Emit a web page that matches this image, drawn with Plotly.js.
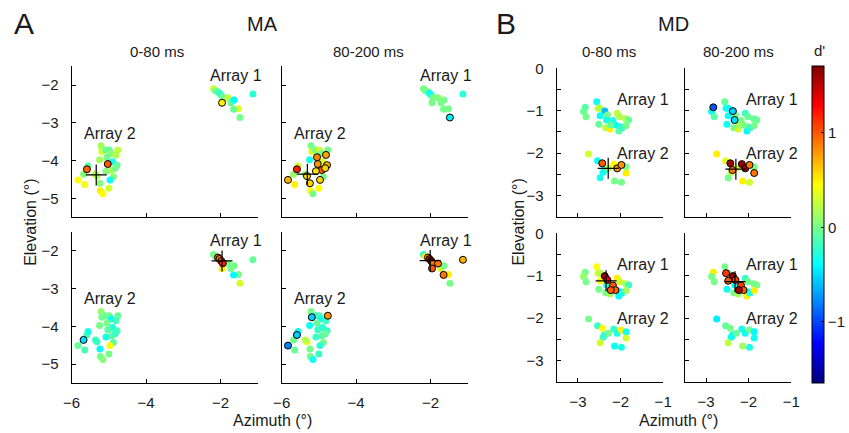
<!DOCTYPE html>
<html><head><meta charset="utf-8">
<script src="https://cdn.plot.ly/plotly-3.0.1.min.js"></script>
<style>html,body{margin:0;padding:0;background:#fff}#chart{width:849px;height:433px}</style>
</head><body><div id="chart"></div>
<script>
// ---------- DATA ----------
// MA monkey: receptive-field centres (deg), shared by all MA panels
const MA_A1_X = [-2.19,-2.14,-2.07,-2.03,-1.98,-1.94,-1.80,-1.96,-1.72,-1.64,-1.52,-1.65,-1.48,-1.13];
const MA_A1_Y = [-2.10,-2.15,-2.18,-2.22,-2.27,-2.33,-2.34,-2.47,-2.47,-2.40,-2.63,-2.64,-2.86,-2.24];
const MA_A2_X = [-5.21,-5.19,-5.09,-4.99,-4.94,-4.76,-4.81,-5.05,-5.25,-4.90,-4.78,-5.03,-4.92,-4.83,-5.08,-5.59,-5.56,-5.68,-5.32,-4.88,-4.97,-5.24,-5.83,-5.65,-5.00,-5.23,-5.16,-5.36];
const MA_A2_Y = [-3.61,-3.76,-3.72,-3.72,-3.81,-3.72,-3.85,-3.91,-3.98,-4.03,-4.12,-4.09,-4.25,-4.20,-4.28,-4.23,-4.14,-4.36,-4.41,-4.43,-4.51,-4.60,-4.51,-4.63,-4.73,-4.80,-4.88,-4.36];

// MA d' values (row 1 / row 2, 0-80 ms = E, 80-200 ms = L)
const MA_R1E_A1 = [0.3,0,-0.05,-0.2,-0.2,0,0.25,0.5,-0.05,-0.4,0.35,-0.05,0,-0.25];
const MA_R1L_A1 = [0,0,0,-0.35,-0.35,0,0.05,0,0,0,0,0,-0.45,-0.25];
const MA_R2E_A1 = [0,0,1.0,0.9,1.0,1.2,0,0.5,0,0,0,-0.4,0.3,-0.05];
const MA_R2L_A1 = [-0.3,0.5,0.8,1.5,1.6,0.9,0.9,1.0,0.3,0,0.5,0.9,0,0.7];
const MA_R1E_A2 = [0.15,0.3,0,-0.05,0.05,0.25,0.2,0,0.15,-0.35,-0.05,1.0,0.2,0,0.05,0.95,-0.1,0.05,0.2,0.05,-0.35,0.05,0.45,0.4,0.3,0.5,0.45,0.2];
const MA_R1L_A2 = [0,0.3,0,0.3,0,0,0.75,0.85,-0.3,0.3,0.7,0.8,1.0,0.6,0.55,1.2,0.3,0.1,0.55,0,0.6,0.6,0.7,0.5,0.45,0.45,0,0.1];
const MA_R2E_A2 = [0.1,0,-0.05,0,-0.35,-0.05,-0.15,0,0,-0.3,-0.15,-0.1,-0.05,-0.2,-0.3,-0.15,-0.3,-0.5,-0.2,-0.1,0.45,-0.4,-0.05,-0.15,0,0,0.05,-0.2];
const MA_R2L_A2 = [0,-0.55,-0.2,-0.15,-0.3,0.8,-0.2,-0.05,-0.35,-0.25,-0.2,-0.2,-0.1,-0.05,-0.2,-0.55,-0.35,0,0.4,0,-0.25,0,-0.8,-0.05,-0.2,0,-0.35,0.2];
// significant sites (indices)
const MA_R1E_A1_SIG = [7];
const MA_R1L_A1_SIG = [12];
const MA_R2E_A1_SIG = [2,3,4,5];
const MA_R2L_A1_SIG = [2,3,4,5,6,7,11,13];
const MA_R1E_A2_SIG = [11,15];
const MA_R1L_A2_SIG = [6,7,10,11,12,13,14,15,18,20,21,22];
const MA_R2E_A2_SIG = [17];
const MA_R2L_A2_SIG = [1,5,15,22];

// MD monkey
const MD_A1_X = [-2.56,-2.83,-2.87,-2.81,-2.53,-2.48,-2.37,-2.31,-2.48,-2.33,-2.51,-2.35,-2.25,-2.18,-2.12,-2.08,-2.02,-2.01,-2.04,-1.97,-1.88,-1.81,-1.87,-2.23];
const MD_A1_Y = [-0.79,-0.92,-1.02,-1.14,-0.94,-0.94,-1.01,-1.10,-1.12,-1.22,-1.32,-1.40,-1.43,-1.23,-1.34,-1.06,-1.14,-1.38,-1.48,-1.41,-1.19,-1.22,-1.35,-1.34];
const MD_A2_X = [-2.75,-2.54,-2.43,-2.38,-2.41,-2.48,-2.29,-2.16,-2.08,-1.98,-1.87,-1.87,-2.14,-1.98];
const MD_A2_Y = [-2.02,-2.18,-2.24,-2.40,-2.45,-2.58,-2.36,-2.26,-2.36,-2.28,-2.32,-2.47,-2.66,-2.69];

const MD_R1E_A1 = [-0.35,-0.1,-0.05,0,0.25,0.2,-0.6,0,-0.35,-0.3,-0.05,0.2,0.5,-0.3,-0.35,0.25,0.2,-0.35,-0.1,-0.2,0.2,-0.05,0,-0.05];
const MD_R1L_A1 = [-0.05,-0.95,-0.35,-0.1,-0.35,-0.35,-0.55,0,-0.35,-0.5,-0.35,0,0.3,0,0,-0.2,-0.05,0,-0.4,-0.2,-0.05,-0.05,0,0.15];
const MD_R2E_A1 = [0.45,0,0.1,0,0.3,0.2,1.6,1.3,0.45,-0.3,0,0,0.15,1.0,0.95,0.5,0.3,-0.45,-0.4,-0.3,0.2,-0.2,0.15,1.0];
const MD_R2L_A1 = [0,0.5,0,0,1.1,0,1.6,1.1,1.0,-0.4,-0.35,0,0.15,1.1,1.0,-0.2,0,-0.35,0.5,-0.3,0,0,0.5,1.6];
const MD_R1E_A2 = [0.3,-0.35,1.0,-0.4,-0.35,-0.3,0.2,0.45,0.8,0.8,0,0.5,0,0];
const MD_R1L_A2 = [0.5,0.35,1.6,0.9,0.3,0,0.3,1.6,1.6,0.9,0,0.9,0.5,0.3];
const MD_R2E_A2 = [0,-0.2,0.45,-0.3,-0.2,0.3,0,-0.2,-0.3,0.5,-0.35,0.3,-0.35,-0.3];
const MD_R2L_A2 = [-0.45,-0.05,0,-0.35,-0.35,0.25,-0.05,-0.3,-0.35,0,-0.4,-0.35,0.15,-0.3];
const MD_R1E_A1_SIG = [];
const MD_R1L_A1_SIG = [1,6,9];
const MD_R2E_A1_SIG = [6,7,13,14,23];
const MD_R2L_A1_SIG = [4,6,7,8,13,14,23];
const MD_R1E_A2_SIG = [2,8,9];
const MD_R1L_A2_SIG = [2,3,7,8,9,11];
const MD_R2E_A2_SIG = [];
const MD_R2L_A2_SIG = [];

// crosses (one per panel: MA r1E, r1L, r2E, r2L, MD r1E, r1L, r2E, r2L)
const CROSS_X = [-5.34,-5.31,-1.96,-2.01,-2.29,-2.30,-2.34,-2.32];
const CROSS_Y = [-4.38,-4.36,-2.27,-2.26,-2.36,-2.38,-1.12,-1.14];

const COL_TITLES = ['0-80 ms','80-200 ms'];
const D_TICKS = [-1,0,1];

// ---------- BUILD ----------
const FONT = 'Liberation Sans, Arial, sans-serif';
const TXT = '#1a1a1a';
const JET = [[0,'#000080'],[0.125,'#0000ff'],[0.375,'#00ffff'],[0.625,'#ffff00'],[0.875,'#ff0000'],[1,'#800000']];

const traces = [];
function addGroup(ax, xs, ys, d, sig) {
  const s = new Set(sig);
  const ns = {x:[],y:[],c:[]}, ss = {x:[],y:[],c:[]};
  xs.forEach((x,i)=>{ const t = s.has(i)?ss:ns; t.x.push(x); t.y.push(ys[i]); t.c.push(d[i]); });
  traces.push({type:'scatter',mode:'markers',x:ns.x,y:ns.y,xaxis:'x'+ax,yaxis:'y'+ax,hoverinfo:'skip',
    marker:{size:7,color:ns.c,coloraxis:'coloraxis',line:{width:0}},showlegend:false,cliponaxis:false});
  return ss;
}
function addSig(ax, ss) {
  traces.push({type:'scatter',mode:'markers',x:ss.x,y:ss.y,xaxis:'x'+ax,yaxis:'y'+ax,hoverinfo:'skip',
    marker:{size:7,color:ss.c,coloraxis:'coloraxis',line:{width:1,color:'#000'}},showlegend:false,cliponaxis:false});
}
const panels = [
  ['',  MA_A1_X,MA_A1_Y,MA_R1E_A1,MA_R1E_A1_SIG, MA_A2_X,MA_A2_Y,MA_R1E_A2,MA_R1E_A2_SIG],
  ['2', MA_A1_X,MA_A1_Y,MA_R1L_A1,MA_R1L_A1_SIG, MA_A2_X,MA_A2_Y,MA_R1L_A2,MA_R1L_A2_SIG],
  ['3', MA_A1_X,MA_A1_Y,MA_R2E_A1,MA_R2E_A1_SIG, MA_A2_X,MA_A2_Y,MA_R2E_A2,MA_R2E_A2_SIG],
  ['4', MA_A1_X,MA_A1_Y,MA_R2L_A1,MA_R2L_A1_SIG, MA_A2_X,MA_A2_Y,MA_R2L_A2,MA_R2L_A2_SIG],
  ['5', MD_A1_X,MD_A1_Y,MD_R1E_A1,MD_R1E_A1_SIG, MD_A2_X,MD_A2_Y,MD_R1E_A2,MD_R1E_A2_SIG],
  ['6', MD_A1_X,MD_A1_Y,MD_R1L_A1,MD_R1L_A1_SIG, MD_A2_X,MD_A2_Y,MD_R1L_A2,MD_R1L_A2_SIG],
  ['7', MD_A1_X,MD_A1_Y,MD_R2E_A1,MD_R2E_A1_SIG, MD_A2_X,MD_A2_Y,MD_R2E_A2,MD_R2E_A2_SIG],
  ['8', MD_A1_X,MD_A1_Y,MD_R2L_A1,MD_R2L_A1_SIG, MD_A2_X,MD_A2_Y,MD_R2L_A2,MD_R2L_A2_SIG]
];
panels.forEach((p,k)=>{
  const ax = p[0];
  const s1 = addGroup(ax,p[1],p[2],p[3],p[4]);
  const s2 = addGroup(ax,p[5],p[6],p[7],p[8]);
  addSig(ax,s1); addSig(ax,s2);
  traces.push({type:'scatter',mode:'markers',x:[CROSS_X[k]],y:[CROSS_Y[k]],xaxis:'x'+ax,yaxis:'y'+ax,hoverinfo:'skip',
    marker:{symbol:'cross-thin',size:15,line:{width:1.2,color:'#000'}},showlegend:false,cliponaxis:false});
});
traces[0].marker.coloraxis = 'coloraxis';

const W = 849, H = 433;
const px = (a,b)=>[a/W,b/W];
const py = (top,bot)=>[1-bot/H,1-top/H];
const baseAx = {showline:true,linecolor:'#000',linewidth:1,ticks:'inside',ticklen:4,tickcolor:'#000',tickwidth:1,
  showgrid:false,zeroline:false,mirror:false,fixedrange:true,tickfont:{family:FONT,size:15,color:TXT},ticklabelstandoff:6};
function xa(dom,range,vals,labels,show){return Object.assign({},baseAx,{domain:dom,range:range,tickvals:vals,ticktext:labels,showticklabels:show});}
function ya(dom,range,vals,labels,show,anchor){return Object.assign({},baseAx,{domain:dom,range:range,tickvals:vals,ticktext:labels,showticklabels:show,ticklabelstandoff:9});}

const MA_XT = [-6,-4,-2], MA_XL = ['−6','−4','−2'];
const MA_YT = [-5,-4,-3,-2], MA_YL = ['−5','−4','−3','−2'];
const MD_XT = [-3,-2,-1], MD_XL = ['−3','−2','−1'];
const MD_YT = [-3,-2.5,-2,-1.5,-1,-0.5,0], MD_YL = ['−3','','−2','','−1','','0'];

const dX1 = px(72,259), dX2 = px(283,470), dX5 = px(559.3,666.3), dX6 = px(688,795);
const dYT = py(66.1,217.3), dYB = py(231.8,383);
const dYT2 = py(68.3,216.7), dYB2 = py(233.3,381.7);

const layout = {
  width:W,height:H,margin:{l:0,r:0,t:0,b:0},paper_bgcolor:'#fff',plot_bgcolor:'rgba(0,0,0,0)',
  font:{family:FONT,color:TXT},
  xaxis: Object.assign(xa(dX1,[-6,-1],MA_XT,MA_XL,false),{anchor:'y'}),
  yaxis: Object.assign(ya(dYT,[-5.5,-1.5],MA_YT,MA_YL,true),{anchor:'x'}),
  xaxis2:Object.assign(xa(dX2,[-6,-1],MA_XT,MA_XL,false),{anchor:'y2'}),
  yaxis2:Object.assign(ya(dYT,[-5.5,-1.5],MA_YT,MA_YL,false),{anchor:'x2'}),
  xaxis3:Object.assign(xa(dX1,[-6,-1],MA_XT,MA_XL,true),{anchor:'y3'}),
  yaxis3:Object.assign(ya(dYB,[-5.5,-1.5],MA_YT,MA_YL,true),{anchor:'x3'}),
  xaxis4:Object.assign(xa(dX2,[-6,-1],MA_XT,MA_XL,true),{anchor:'y4'}),
  yaxis4:Object.assign(ya(dYB,[-5.5,-1.5],MA_YT,MA_YL,false),{anchor:'x4'}),
  xaxis5:Object.assign(xa(dX5,[-3.5,-1],MD_XT,MD_XL,false),{anchor:'y5'}),
  yaxis5:Object.assign(ya(dYT2,[-3.5,0],MD_YT,MD_YL,true),{anchor:'x5'}),
  xaxis6:Object.assign(xa(dX6,[-3.5,-1],MD_XT,MD_XL,false),{anchor:'y6'}),
  yaxis6:Object.assign(ya(dYT2,[-3.5,0],MD_YT,MD_YL,false),{anchor:'x6'}),
  xaxis7:Object.assign(xa(dX5,[-3.5,-1],MD_XT,MD_XL,true),{anchor:'y7'}),
  yaxis7:Object.assign(ya(dYB2,[-3.5,0],MD_YT,MD_YL,true),{anchor:'x7'}),
  xaxis8:Object.assign(xa(dX6,[-3.5,-1],MD_XT,MD_XL,true),{anchor:'y8'}),
  yaxis8:Object.assign(ya(dYB2,[-3.5,0],MD_YT,MD_YL,false),{anchor:'x8'}),
  coloraxis:{cmin:-1.65,cmax:1.71,colorscale:JET,
    colorbar:{x:816/W,xanchor:'left',xpad:0,ypad:0,y:1-66/H,yanchor:'top',len:317.3/H,lenmode:'fraction',
      thickness:12,thicknessmode:'pixels',outlinewidth:1,outlinecolor:'#000',borderwidth:0,
      tickvals:D_TICKS,ticktext:['−1','0','1'],ticks:'inside',ticklen:3,tickcolor:'#000',
      tickfont:{family:FONT,size:15,color:TXT},ticklabelstandoff:3}},
  annotations:[]
};
const ann = layout.annotations;
function paperText(t,x,y,size,extra){ann.push(Object.assign({text:t,xref:'paper',yref:'paper',x:x/W,y:1-y/H,showarrow:false,
  font:{family:FONT,size:size,color:TXT},xanchor:'center',yanchor:'middle'},extra||{}));}
paperText('A',24,24,30);
paperText('B',508,24,30);
paperText('MA',264,24,20);
paperText('MD',677,24,20);
paperText(COL_TITLES[0],158,52,15);
paperText(COL_TITLES[1],370,52,15);
paperText(COL_TITLES[0],612,52,15);
paperText(COL_TITLES[1],742,52,15);
paperText("d'",823,50,15);
paperText('Azimuth (°)',274,420,16);
paperText('Azimuth (°)',682,420,16);
paperText('Elevation (°)',30,222,16,{textangle:-90});
paperText('Elevation (°)',520,222,16,{textangle:-90});
// array labels
['','2','3','4'].forEach(a=>{
  ann.push({text:'Array 1',xref:'x'+a,yref:'y'+a,x:-2.35,y:-1.74,xanchor:'left',yanchor:'middle',showarrow:false,font:{family:FONT,size:16,color:TXT}});
  ann.push({text:'Array 2',xref:'x'+a,yref:'y'+a,x:-5.72,y:-3.27,xanchor:'left',yanchor:'middle',showarrow:false,font:{family:FONT,size:16,color:TXT}});
});
['5','6','7','8'].forEach(a=>{
  ann.push({text:'Array 1',xref:'x'+a,yref:'y'+a,x:-2.12,y:-0.74,xanchor:'left',yanchor:'middle',showarrow:false,font:{family:FONT,size:16,color:TXT}});
  ann.push({text:'Array 2',xref:'x'+a,yref:'y'+a,x:-2.12,y:-2.0,xanchor:'left',yanchor:'middle',showarrow:false,font:{family:FONT,size:16,color:TXT}});
});

Plotly.newPlot('chart',traces,layout,{staticPlot:true,displayModeBar:false});
</script>
</body></html>
